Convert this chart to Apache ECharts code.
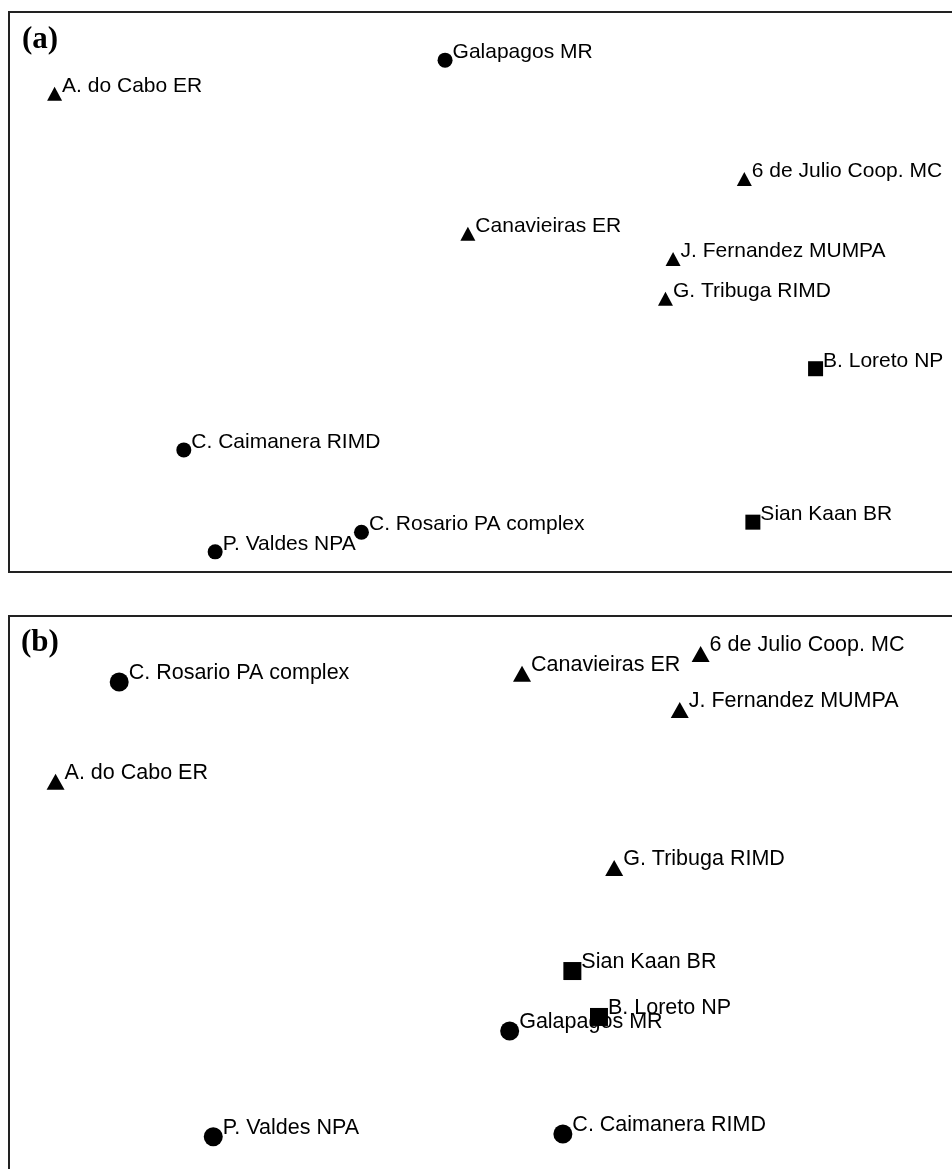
<!DOCTYPE html>
<html>
<head>
<meta charset="utf-8">
<script src="https://cdn.jsdelivr.net/npm/echarts@6/dist/echarts.min.js"></script>
<style>
html,body{margin:0;padding:0;background:#fff;}
#chart{width:952px;height:1169px;}
</style>
</head>
<body>
<div id="chart"></div>
<script>
// Site names and marker shape per site
const sites = ["A. do Cabo ER","Galapagos MR","6 de Julio Coop. MC","Canavieiras ER","J. Fernandez MUMPA","G. Tribuga RIMD","B. Loreto NP","C. Caimanera RIMD","P. Valdes NPA","C. Rosario PA complex","Sian Kaan BR"];
const shapes = ["triangle","circle","triangle","triangle","triangle","triangle","square","circle","circle","circle","square"];
// Panel (a) ordination coordinates
const aX = [4.8, 45.9, 77.4, 48.3, 69.9, 69.1, 84.9, 18.4, 21.7, 37.1, 78.3];
const aY = [85.4, 91.4, 70.2, 60.4, 55.9, 48.8, 36.3, 21.8, 3.6, 7.1, 8.9];
// Panel (b) ordination coordinates
const bX = [4.9, 52.7, 72.8, 54.0, 70.6, 63.7, 62.1, 58.3, 21.5, 11.6, 59.3];
const bY = [70.4, 25.9, 93.2, 89.7, 83.2, 55.0, 28.4, 7.5, 7.0, 88.2, 36.6];
const panelLabels = ["(a)", "(b)"];

const chart = echarts.init(document.getElementById('chart'));

const symbolMap = { triangle: 'triangle', circle: 'circle', square: 'rect' };
const sizesA = { triangle: [15, 14], circle: 15, square: 15 };
const sizesB = { triangle: [18, 16], circle: 19, square: 18 };

function buildSeries(xs, ys, idx, sizes, fontSize, dy) {
  const out = [];
  ['triangle','circle','square'].forEach(shape => {
    const data = [];
    sites.forEach((s, i) => {
      if (shapes[i] === shape) data.push({ name: s, value: [xs[i], ys[i]] });
    });
    out.push({
      type: 'scatter',
      xAxisIndex: idx, yAxisIndex: idx,
      symbol: symbolMap[shape],
      symbolSize: sizes[shape],
      itemStyle: { color: '#000', opacity: 1 },
      data: data,
      silent: true,
      label: {
        show: true,
        position: 'right',
        distance: 0,
        offset: [0, dy],
        formatter: p => p.name,
        color: '#000',
        opacity: 1,
        fontFamily: 'Liberation Sans, Arial, sans-serif',
        fontSize: fontSize
      },
      emphasis: { disabled: true }
    });
  });
  return out;
}

const axisCommon = { show: false, splitLine: { show: false } };
const titleStyle = { fontFamily: 'Liberation Serif, Times New Roman, serif', fontWeight: 'bold', fontSize: 31, color: '#000' };

chart.setOption({
  animation: false,
  backgroundColor: '#fff',
  title: [
    { text: panelLabels[0], left: 22, top: 24, padding: 0, textStyle: titleStyle },
    { text: panelLabels[1], left: 21, top: 627, padding: 0, textStyle: titleStyle }
  ],
  // panel frames (they run past the right and bottom edges of the picture)
  graphic: [
    { type: 'rect', shape: { x: 9, y: 12, width: 970, height: 560 }, style: { fill: null, stroke: '#222', lineWidth: 2 }, silent: true },
    { type: 'rect', shape: { x: 9, y: 616, width: 970, height: 600 }, style: { fill: null, stroke: '#222', lineWidth: 2 }, silent: true }
  ],
  grid: [
    { left: 9, top: 12, width: 943, height: 560, show: false },
    { left: 9, top: 616, width: 943, height: 553, show: false }
  ],
  xAxis: [
    Object.assign({ gridIndex: 0, type: 'value', min: 0, max: 99.26 }, axisCommon),
    Object.assign({ gridIndex: 1, type: 'value', min: 0, max: 99.26 }, axisCommon)
  ],
  yAxis: [
    Object.assign({ gridIndex: 0, type: 'value', min: 0, max: 100 }, axisCommon),
    Object.assign({ gridIndex: 1, type: 'value', min: 1.25, max: 100 }, axisCommon)
  ],
  series: [].concat(
    buildSeries(aX, aY, 0, sizesA, 21, -8),
    buildSeries(bX, bY, 1, sizesB, 21.5, -9)
  )
});
</script>
</body>
</html>
